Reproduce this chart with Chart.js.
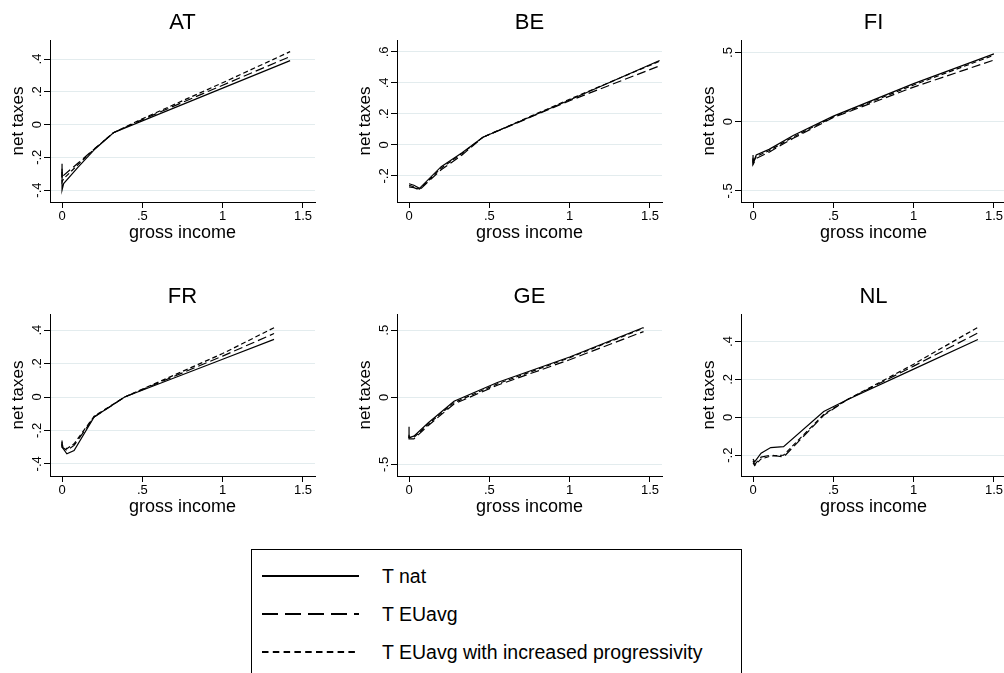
<!DOCTYPE html>
<html>
<head>
<meta charset="utf-8">
<script src="https://cdn.jsdelivr.net/npm/chart.js@4.4.1/dist/chart.umd.min.js"></script>
<style>
  html, body { margin: 0; padding: 0; background: #fff; width: 1004px; height: 673px; overflow: hidden; position: relative; }
  .panel { position: absolute; width: 330px; height: 250px; }
  .panel canvas { display: block; }
  #legend {
    position: absolute; left: 251px; top: 549px; width: 489px; height: 140px;
    border: 1px solid #000; background: #fff;
    font-family: 'Liberation Sans', Arial, sans-serif; font-size: 19.5px; color: #000;
  }
  .row { position: absolute; left: 0; height: 38px; display: flex; align-items: center; white-space: nowrap; }
  .row svg { margin-left: 10px; margin-right: 23px; transform: translateY(-1px); }
  .row span { line-height: 1; }
</style>
</head>
<body>
<div class="panel" style="left:0px;top:0px"><canvas id="chartAT" width="330" height="250"></canvas></div>
<div class="panel" style="left:347px;top:0px"><canvas id="chartBE" width="330" height="250"></canvas></div>
<div class="panel" style="left:691px;top:0px"><canvas id="chartFI" width="330" height="250"></canvas></div>
<div class="panel" style="left:0px;top:274px"><canvas id="chartFR" width="330" height="250"></canvas></div>
<div class="panel" style="left:347px;top:274px"><canvas id="chartGE" width="330" height="250"></canvas></div>
<div class="panel" style="left:691px;top:274px"><canvas id="chartNL" width="330" height="250"></canvas></div>
<div id="legend"></div>

<script>
// ------------------------------------------------------------
// Datos: renta bruta y impuestos netos
// ------------------------------------------------------------
const SERIES_LABELS = ['T nat', 'T EUavg', 'T EUavg with increased progressivity'];

const X_TICKS = [0, 0.5, 1, 1.5];
const X_MIN = -0.075;
const X_MAX = 1.575;

// AT
const AT_X    = [0, 0, 0.01, 0.1, 0.2, 0.32, 0.5, 1.0, 1.42];
const AT_NAT  = [-0.24, -0.40, -0.36, -0.26, -0.155, -0.05, 0.022, 0.222, 0.39];
const AT_EU   = [-0.27, -0.33, -0.31, -0.235, -0.15, -0.05, 0.03, 0.24, 0.415];
const AT_PROG = [-0.29, -0.35, -0.33, -0.245, -0.15, -0.05, 0.035, 0.255, 0.445];
const AT_Y_TICKS = [-0.4, -0.2, 0, 0.2, 0.4];

// BE
const BE_X    = [0, 0.03, 0.065, 0.2, 0.33, 0.46, 1.0, 1.56];
const BE_NAT  = [-0.25, -0.26, -0.28, -0.14, -0.05, 0.05, 0.29, 0.545];
const BE_EU   = [-0.27, -0.275, -0.29, -0.16, -0.065, 0.05, 0.285, 0.51];
const BE_PROG = [-0.26, -0.27, -0.285, -0.15, -0.055, 0.05, 0.295, 0.54];
const BE_Y_TICKS = [-0.2, 0, 0.2, 0.4, 0.6];

// FI
const FI_X    = [0, 0, 0.02, 0.1, 0.25, 0.5, 1.0, 1.5];
const FI_NAT  = [-0.24, -0.30, -0.24, -0.2, -0.1, 0.04, 0.275, 0.49];
const FI_EU   = [-0.27, -0.31, -0.265, -0.22, -0.12, 0.03, 0.25, 0.445];
const FI_PROG = [-0.26, -0.30, -0.25, -0.21, -0.11, 0.035, 0.265, 0.48];
const FI_Y_TICKS = [-0.5, 0, 0.5];

// FR
const FR_X    = [0, 0, 0.03, 0.075, 0.2, 0.39, 1.0, 1.32];
const FR_NAT  = [-0.26, -0.30, -0.34, -0.32, -0.12, 0.0, 0.226, 0.345];
const FR_EU   = [-0.28, -0.30, -0.32, -0.29, -0.12, 0.0, 0.245, 0.38];
const FR_PROG = [-0.27, -0.29, -0.31, -0.28, -0.115, 0.0, 0.26, 0.415];
const FR_Y_TICKS = [-0.4, -0.2, 0, 0.2, 0.4];

// GE
const GE_X    = [0, 0, 0.03, 0.12, 0.28, 0.55, 1.0, 1.46];
const GE_NAT  = [-0.22, -0.30, -0.29, -0.19, -0.03, 0.11, 0.30, 0.52];
const GE_EU   = [-0.29, -0.31, -0.31, -0.21, -0.05, 0.09, 0.28, 0.49];
const GE_PROG = [-0.28, -0.30, -0.30, -0.20, -0.04, 0.10, 0.295, 0.515];
const GE_Y_TICKS = [-0.5, 0, 0.5];

// NL
const NL_X    = [0, 0.01, 0.05, 0.11, 0.19, 0.44, 0.58, 1.0, 1.4];
const NL_NAT  = [-0.22, -0.235, -0.19, -0.16, -0.155, 0.03, 0.09, 0.254, 0.41];
const NL_EU   = [-0.23, -0.25, -0.21, -0.20, -0.21, 0.01, 0.09, 0.27, 0.445];
const NL_PROG = [-0.24, -0.255, -0.22, -0.205, -0.20, 0.015, 0.09, 0.28, 0.475];
const NL_Y_TICKS = [-0.2, 0, 0.2, 0.4];

// ------------------------------------------------------------
// Estilo
// ------------------------------------------------------------
const GRID = '#e3ecee';
const DASHES = [[], [9, 4], [5, 3]];
const LEGEND_DASHES = ['', '16 7', '6.5 4.3'];

Chart.defaults.font.family = "'Liberation Sans', Arial, sans-serif";
Chart.defaults.color = '#000';

/** Etiquetas estilo Stata: .5, -.2, 0 */
function fmt(v) {
  if (Math.abs(v) < 1e-9) return '0';
  return String(+v.toFixed(2)).replace(/^(-?)0\./, '$1.');
}

function serie(i, xs, ys) {
  return {
    label: SERIES_LABELS[i],
    data: xs.map((x, k) => ({ x, y: ys[k] })),
    borderColor: '#000',
    borderWidth: 1.2,
    borderDash: DASHES[i],
    pointRadius: 0,
    tension: 0,
    fill: false,
  };
}

function buildPanel(id, title, xs, nat, eu, prog, yTicks, yMin, yMax) {
  return new Chart(document.getElementById(id), {
    type: 'line',
    data: { datasets: [serie(0, xs, nat), serie(1, xs, eu), serie(2, xs, prog)] },
    options: {
      responsive: false,
      animation: false,
      devicePixelRatio: 1,
      layout: { padding: { left: 0, right: 15, top: 0, bottom: 0 } },
      plugins: {
        legend: { display: false },
        tooltip: { enabled: false },
        title: {
          display: true, text: title, fullSize: false, color: '#000',
          font: { size: 22, weight: 'normal', lineHeight: 1.2 },
          padding: { top: 10, bottom: 3.6 },
        },
      },
      scales: {
        x: {
          type: 'linear', min: X_MIN, max: X_MAX,
          afterBuildTicks: s => { s.ticks = X_TICKS.map(v => ({ value: v })); },
          afterFit: s => { s.height = 48; },
          grid: { drawOnChartArea: false, tickLength: 6, tickColor: '#000' },
          border: { color: '#000', width: 1 },
          ticks: { font: { size: 13 }, padding: 1, maxRotation: 0, callback: fmt },
          title: { display: true, text: 'gross income', font: { size: 18 }, padding: { top: 0, bottom: 6 } },
        },
        y: {
          min: yMin, max: yMax,
          afterBuildTicks: s => { s.ticks = yTicks.map(v => ({ value: v })); },
          afterFit: s => { s.width = 50; },
          grid: { color: GRID, tickLength: 6, tickColor: '#000' },
          border: { color: '#000', width: 1 },
          ticks: { font: { size: 13 }, minRotation: 90, maxRotation: 90, crossAlign: 'center', padding: -1, callback: fmt },
          title: { display: true, text: 'net taxes', font: { size: 17 }, padding: { top: 8, bottom: 0 } },
        },
      },
    },
  });
}

buildPanel('chartAT', 'AT', AT_X, AT_NAT, AT_EU, AT_PROG, AT_Y_TICKS, -0.473, 0.516);
buildPanel('chartBE', 'BE', BE_X, BE_NAT, BE_EU, BE_PROG, BE_Y_TICKS, -0.368, 0.677);
buildPanel('chartFI', 'FI', FI_X, FI_NAT, FI_EU, FI_PROG, FI_Y_TICKS, -0.58, 0.59);
buildPanel('chartFR', 'FR', FR_X, FR_NAT, FR_EU, FR_PROG, FR_Y_TICKS, -0.473, 0.497);
buildPanel('chartGE', 'GE', GE_X, GE_NAT, GE_EU, GE_PROG, GE_Y_TICKS, -0.587, 0.621);
buildPanel('chartNL', 'NL', NL_X, NL_NAT, NL_EU, NL_PROG, NL_Y_TICKS, -0.31, 0.545);

// Leyenda común
const legend = document.getElementById('legend');
SERIES_LABELS.forEach((label, i) => {
  const row = document.createElement('div');
  row.className = 'row';
  row.style.top = (8 + 38 * i) + 'px';
  row.innerHTML =
    `<svg width="97" height="4"><line x1="0" y1="2" x2="97" y2="2" stroke="#000" stroke-width="2"` +
    (LEGEND_DASHES[i] ? ` stroke-dasharray="${LEGEND_DASHES[i]}"` : '') + `/></svg><span>${label}</span>`;
  legend.appendChild(row);
});
</script>
</body>
</html>
